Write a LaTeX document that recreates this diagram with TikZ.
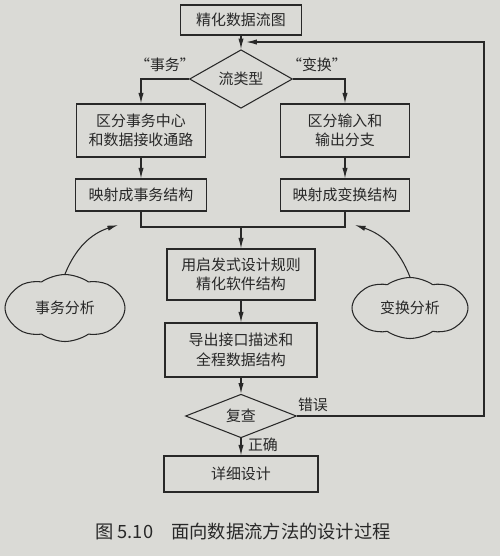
\documentclass[tikz,border=0pt]{standalone}
\usepackage{fontspec}
\setmainfont{Noto Sans CJK SC}
\usepackage{tikz}
\usetikzlibrary{positioning,arrows}
\usetikzlibrary{shapes}
\usetikzlibrary{arrows.meta}
\usepackage{xcolor}
\definecolor{paper}{RGB}{218,218,214}
\definecolor{ink}{RGB}{40,40,40}

\begin{document}
\begin{tikzpicture}[x=0.02cm,y=-0.02cm]
	\fill[paper] (0,0) rectangle (500,556);
	\useasboundingbox (0,0) rectangle (500,556);
	\tikzstyle{every node}=[font=\fontsize{8.5}{11}\selectfont, text=ink, align=center, inner sep=1pt]
	\tikzstyle{proc}=[draw=ink, semithick, rectangle]
	\tikzstyle{test}=[draw=ink, semithick, diamond, inner sep=0pt]
	\tikzstyle{note}=[draw=ink, semithick, cloud, cloud puffs=8, cloud puff arc=70, aspect=2]
	\tikzstyle{flow}=[draw=ink, semithick, -{Latex[length=6pt,width=3pt]}]
	\tikzstyle{line}=[draw=ink, semithick]
	% main column
	\draw (241,20) node (refine) [proc, minimum width=2.42cm, minimum height=0.6cm] {精化数据流图};
	\draw (241,79) node (kind) [test, minimum width=2.06cm, minimum height=0.68cm] {流类型};
	\draw (141,130.5) node (tcenter) [proc, minimum width=2.58cm, minimum height=1.06cm] {区分事务中心\\和数据接收通路};
	\draw (345,130.5) node (split) [proc, minimum width=2.58cm, minimum height=1.06cm] {区分输入和\\输出分支};
	\draw (141,195) node (tmap) [proc, minimum width=2.62cm, minimum height=0.64cm] {映射成事务结构};
	\draw (345,195) node (xmap) [proc, minimum width=2.58cm, minimum height=0.64cm] {映射成变换结构};
	\draw (241,274.5) node (heur) [proc, minimum width=2.96cm, minimum height=1.02cm] {用启发式设计规则\\精化软件结构};
	\draw (241,350) node (iface) [proc, minimum width=3.04cm, minimum height=1.08cm] {导出接口描述和\\全程数据结构};
	\draw (241,416) node (check) [test, minimum width=2.22cm, minimum height=0.76cm] {复查};
	\draw (241,474) node (detail) [proc, minimum width=3.08cm, minimum height=0.72cm] {详细设计};
	% clouds
	\draw (65,308) node (tana) [note, minimum width=2.4cm, minimum height=1.34cm] {事务分析};
	\draw (410,308) node (xana) [note, minimum width=2.32cm, minimum height=1.22cm] {变换分析};
	\coordinate (join) at (241,227);
	\coordinate (back) at (484,42);
	\coordinate (entry) at (241,42);
	\coordinate (tend) at (118,225);
	\coordinate (xend) at (355,225);
	% connectors
	\draw [flow] (refine) to (kind);
	\draw [flow] (kind.west) -| (tcenter.north);
	\draw [flow] (kind.east) -| (split.north);
	\draw [flow] (tcenter) to (tmap);
	\draw [flow] (split) to (xmap);
	\draw [line] (tmap.south) |- (join) -| (xmap.south);
	\draw [flow] (join) to (heur);
	\draw [flow] (heur) to (iface);
	\draw [flow] (iface) to (check);
	\draw [flow] (check) to (detail);
	\draw [flow, shorten >=3pt] (check.east) -| (back) to (entry);
	\draw [flow] (tana.north) to[bend left=25] (tend);
	\draw [flow] (xana.north) to[bend right=25] (xend);
	% labels
	\node (ltrans) at (165,65) {“事务”};
	\node (lxform) at (317,65) {“变换”};
	\node (lwrong) at (313,405) {错误};
	\node (lright) at (263,445) {正确};
	\node (caption) at (243,532) [font=\fontsize{10.4}{12}\selectfont] {图 5.10\quad 面向数据流方法的设计过程};
\end{tikzpicture}
\end{document}
